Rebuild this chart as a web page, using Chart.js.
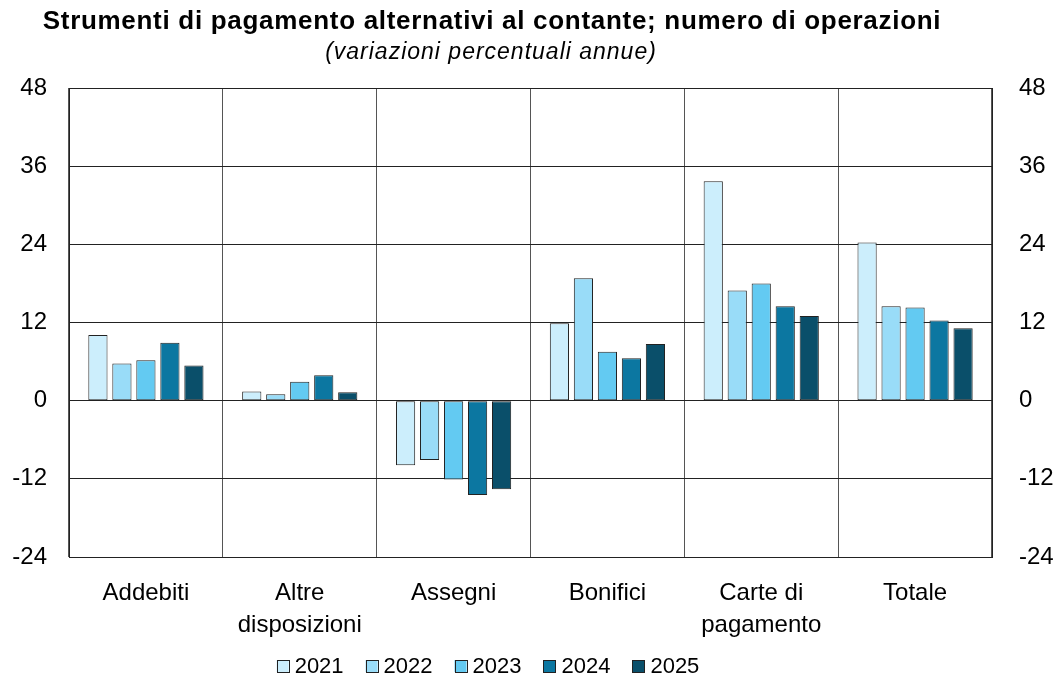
<!DOCTYPE html>
<html>
<head>
<meta charset="utf-8">
<script src="https://cdn.jsdelivr.net/npm/chart.js@4/dist/chart.umd.min.js"></script>
<style>
  html, body { margin: 0; padding: 0; background: #fff; }
  #wrap { width: 1058px; height: 684px; }
</style>
</head>
<body>
<div id="wrap"><canvas id="chart"></canvas></div>
<script>
// data
var categories = ['Addebiti', ['Altre', 'disposizioni'], 'Assegni', 'Bonifici', ['Carte di', 'pagamento'], 'Totale'];
var years = ['2021', '2022', '2023', '2024', '2025'];
var v2021 = [10.1, 1.4, -9.9, 11.9, 33.7, 24.3];
var v2022 = [5.7, 1.0, -9.1, 18.8, 16.9, 14.5];
var v2023 = [6.2, 2.9, -12.1, 7.5, 18.0, 14.3];
var v2024 = [8.9, 3.9, -14.5, 6.5, 14.5, 12.3];
var v2025 = [5.4, 1.3, -13.6, 8.7, 13.0, 11.1];
var yTicks = [48, 36, 24, 12, 0, -12, -24];

var colors = ['#CCEEFC', '#99DCF8', '#63CAF2', '#0C77A1', '#0A4F6A'];
var FONT = '"Liberation Sans", Arial, sans-serif';

var series = [v2021, v2022, v2023, v2024, v2025];
var datasets = series.map(function (vals, i) {
    return {
        label: years[i],
        data: vals,
        backgroundColor: colors[i],
        borderColor: '#222',
        borderWidth: 1,
        borderSkipped: false,
        categoryPercentage: 0.78,
        barPercentage: 0.8,
        yAxisID: 'y'
    };
});

// titles and legend drawn by hand so they can sit off-centre like the original
var decorations = {
    id: 'decorations',
    afterDraw: function (chart) {
        var ctx = chart.ctx;
        ctx.save();
        ctx.fillStyle = '#000';
        ctx.textAlign = 'center';
        ctx.textBaseline = 'alphabetic';
        ctx.font = 'bold 26px ' + FONT;
        ctx.letterSpacing = '0.7px';
        ctx.fillText('Strumenti di pagamento alternativi al contante; numero di operazioni', 492, 29);
        ctx.font = 'italic 23px ' + FONT;
        ctx.letterSpacing = '1px';
        ctx.fillText('(variazioni percentuali annue)', 491, 59);
        ctx.letterSpacing = '0px';

        // legend
        ctx.font = '22px ' + FONT;
        ctx.textAlign = 'left';
        ctx.textBaseline = 'middle';
        var box = 12, gap = 6, spacing = 22;
        var widths = years.map(function (y) { return box + gap + ctx.measureText(y).width; });
        var total = widths.reduce(function (a, b) { return a + b; }, 0) + spacing * (years.length - 1);
        var x = 488 - total / 2, yc = 666;
        years.forEach(function (y, i) {
            ctx.fillStyle = colors[i];
            ctx.fillRect(x, yc - box / 2, box, box);
            ctx.strokeStyle = '#222';
            ctx.lineWidth = 1;
            ctx.strokeRect(Math.round(x) + 0.5, Math.round(yc - box / 2) + 0.5, box, box);
            ctx.fillStyle = '#000';
            ctx.fillText(y, x + box + gap, yc + 1);
            x += widths[i] + spacing;
        });
        ctx.restore();
    }
};

function fixedTicks(axis) {
    axis.ticks = yTicks.map(function (v) { return { value: v }; });
}

new Chart(document.getElementById('chart'), {
    type: 'bar',
    data: { labels: categories, datasets: datasets },
    plugins: [decorations],
    options: {
        responsive: true,
        maintainAspectRatio: false,
        animation: false,
        layout: { padding: { top: 88, bottom: 45, left: 0, right: 0 } },
        plugins: {
            legend: { display: false },
            title: { display: false },
            tooltip: { enabled: false }
        },
        scales: {
            x: {
                grid: { color: '#555', lineWidth: 1, drawTicks: false, offset: true },
                border: { display: true, color: '#222' },
                ticks: { color: '#000', font: { family: FONT, size: 24, lineHeight: 1.35 }, padding: 20, maxRotation: 0, autoSkip: false },
                afterFit: function (s) { s.height = 82; }
            },
            y: {
                position: 'left',
                min: -24, max: 48,
                afterBuildTicks: fixedTicks,
                grid: { color: '#222', lineWidth: 1, drawTicks: false },
                border: { display: true, color: '#222' },
                ticks: { color: '#000', font: { family: FONT, size: 24 }, padding: 22 },
                afterFit: function (s) { s.width = 69; }
            },
            y2: {
                position: 'right',
                min: -24, max: 48,
                afterBuildTicks: fixedTicks,
                grid: { display: false, drawTicks: false },
                border: { display: true, color: '#222' },
                ticks: { color: '#000', font: { family: FONT, size: 24 }, padding: 27 },
                afterFit: function (s) { s.width = 66; }
            }
        }
    }
});
</script>
</body>
</html>
